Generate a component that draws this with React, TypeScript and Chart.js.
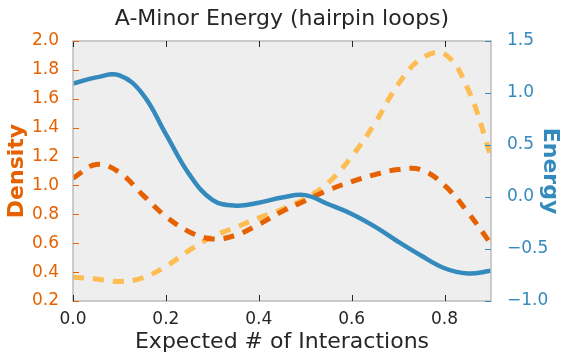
import React, { useEffect, useRef } from "react";
import { Chart, registerables } from "chart.js";

Chart.register(...registerables);

// ---- data ----
const xValues = [0, 0.05, 0.1, 0.15, 0.2, 0.25, 0.3, 0.35, 0.4, 0.45, 0.5, 0.55, 0.6, 0.65, 0.7, 0.75, 0.8, 0.85, 0.9];
const energy = [1.09, 1.15, 1.17, 0.99, 0.605, 0.22, -0.027, -0.083, -0.055, -0.005, 0.018, -0.07, -0.163, -0.285, -0.43, -0.565, -0.685, -0.735, -0.71];
const densityDark = [1.05, 1.145, 1.09, 0.935, 0.785, 0.68, 0.63, 0.655, 0.73, 0.82, 0.894, 0.968, 1.026, 1.075, 1.11, 1.108, 1.0, 0.815, 0.594];
const densityLight = [0.364, 0.353, 0.335, 0.36, 0.44, 0.55, 0.645, 0.71, 0.775, 0.835, 0.91, 1.02, 1.2, 1.43, 1.7, 1.878, 1.91, 1.67, 1.2];

const xTicks = [0, 0.2, 0.4, 0.6, 0.8];
const densityTicks = [0.2, 0.4, 0.6, 0.8, 1.0, 1.2, 1.4, 1.6, 1.8, 2.0];
const energyTicks = [-1.0, -0.5, 0.0, 0.5, 1.0, 1.5];

const titleText = "A-Minor Energy (hairpin loops)";
const xTitle = "Expected # of Interactions";
const leftTitle = "Density";
const rightTitle = "Energy";

const FONT = "'DejaVu Sans', sans-serif";
const BLUE = "#348ABD";
const DARK = "#e66101";
const LIGHT = "#fdbd52";
const TEXT = "#262626";

const fmt = (v: number) => Number(v).toFixed(1).replace("-", "\u2212");

const bgPlugin = {
  id: "bgPlugin",
  beforeDraw(chart: any) {
    const { ctx, chartArea: a } = chart;
    ctx.save();
    ctx.fillStyle = "#eeeeee";
    ctx.fillRect(a.left, a.top, a.right - a.left, a.bottom - a.top);
    ctx.restore();
  },
};

const framePlugin = {
  id: "framePlugin",
  afterDatasetsDraw(chart: any) {
    const { ctx, chartArea: a, scales } = chart;
    ctx.save();
    ctx.strokeStyle = "#bcbcbc";
    ctx.lineWidth = 1.5;
    ctx.strokeRect(a.left, a.top, a.right - a.left, a.bottom - a.top);
    const L = 6;
    ctx.lineWidth = 1;
    ctx.strokeStyle = TEXT;
    ctx.beginPath();
    for (const v of xTicks) {
      const px = Math.round(scales.x.getPixelForValue(v)) + 0.5;
      ctx.moveTo(px, a.bottom);
      ctx.lineTo(px, a.bottom - L);
      ctx.moveTo(px, a.top);
      ctx.lineTo(px, a.top + L);
    }
    ctx.stroke();
    ctx.strokeStyle = DARK;
    ctx.beginPath();
    for (const v of densityTicks) {
      const py = Math.round(scales.y.getPixelForValue(v)) + 0.5;
      ctx.moveTo(a.left, py);
      ctx.lineTo(a.left + L, py);
    }
    ctx.stroke();
    ctx.strokeStyle = BLUE;
    ctx.beginPath();
    for (const v of energyTicks) {
      const py = Math.round(scales.y1.getPixelForValue(v)) + 0.5;
      ctx.moveTo(a.right, py);
      ctx.lineTo(a.right - L, py);
    }
    ctx.stroke();
    ctx.restore();
  },
};

export default function App() {
  const ref = useRef<HTMLCanvasElement | null>(null);
  useEffect(() => {
    if (!ref.current) return;
    const pts = (ys: number[]) => xValues.map((x, i) => ({ x, y: ys[i] }));
    const chart = new Chart(ref.current, {
      type: "line",
      data: {
        datasets: [
          {
            label: "Energy",
            data: pts(energy),
            yAxisID: "y1",
            borderColor: BLUE,
            borderWidth: 4.5,
            pointRadius: 0,
            tension: 0.4,
            fill: false,
          },
          {
            label: "Density (dark)",
            data: pts(densityDark),
            yAxisID: "y",
            borderColor: DARK,
            borderWidth: 5,
            borderDash: [11, 9],
            borderCapStyle: "butt",
            pointRadius: 0,
            tension: 0.4,
            fill: false,
          },
          {
            label: "Density (light)",
            data: pts(densityLight),
            yAxisID: "y",
            borderColor: LIGHT,
            borderWidth: 5,
            borderDash: [11, 9],
            borderCapStyle: "butt",
            pointRadius: 0,
            tension: 0.4,
            fill: false,
          },
        ],
      },
      options: {
        responsive: false,
        animation: false,
        devicePixelRatio: 1,
        layout: { padding: 0 },
        plugins: {
          legend: { display: false },
          tooltip: { enabled: false },
          title: {
            display: true,
            text: titleText,
            color: TEXT,
            font: { family: FONT, size: 22, weight: "normal" },
            padding: { top: 5.9, bottom: 8.7 },
          },
        },
        scales: {
          x: {
            type: "linear",
            min: 0,
            max: 0.9,
            afterBuildTicks: (s: any) => {
              s.ticks = xTicks.map((v) => ({ value: v }));
            },
            afterFit: (s: any) => {
              s.height = 57;
            },
            grid: { display: false },
            border: { display: false },
            ticks: {
              color: TEXT,
              font: { family: FONT, size: 17 },
              padding: 0,
              maxRotation: 0,
              autoSkip: false,
              callback: (v: any) => fmt(v),
            },
            title: {
              display: true,
              text: xTitle,
              color: TEXT,
              font: { family: FONT, size: 22 },
              padding: { top: 0, bottom: 2.4 },
            },
          },
          y: {
            type: "linear",
            position: "left",
            min: 0.2,
            max: 2.0,
            afterBuildTicks: (s: any) => {
              s.ticks = densityTicks.map((v) => ({ value: v }));
            },
            afterFit: (s: any) => {
              s.width = 73;
            },
            grid: { display: false },
            border: { display: false },
            ticks: {
              color: DARK,
              font: { family: FONT, size: 17 },
              padding: 6,
              autoSkip: false,
              callback: (v: any) => fmt(v),
            },
            title: {
              display: true,
              text: leftTitle,
              color: DARK,
              font: { family: FONT, size: 22, weight: "bold" },
              padding: { top: 4.2, bottom: 0 },
            },
          },
          y1: {
            type: "linear",
            position: "right",
            min: -1.0,
            max: 1.5,
            afterBuildTicks: (s: any) => {
              s.ticks = energyTicks.map((v) => ({ value: v }));
            },
            afterFit: (s: any) => {
              s.width = 73;
            },
            grid: { display: false },
            border: { display: false },
            ticks: {
              color: BLUE,
              font: { family: FONT, size: 17 },
              padding: 8,
              autoSkip: false,
              callback: (v: any) => fmt(v),
            },
            title: {
              display: true,
              text: rightTitle,
              color: BLUE,
              font: { family: FONT, size: 22, weight: "bold" },
              padding: { top: 1.2, bottom: 0 },
            },
          },
        },
      },
      plugins: [bgPlugin, framePlugin],
    } as any);
    return () => chart.destroy();
  }, []);
  return (
    <div style={{ position: "fixed", left: 0, top: 0, width: 564, height: 358, background: "#fff" }}>
      <canvas ref={ref} width={564} height={358} style={{ display: "block", width: 564, height: 358 }} />
    </div>
  );
}
